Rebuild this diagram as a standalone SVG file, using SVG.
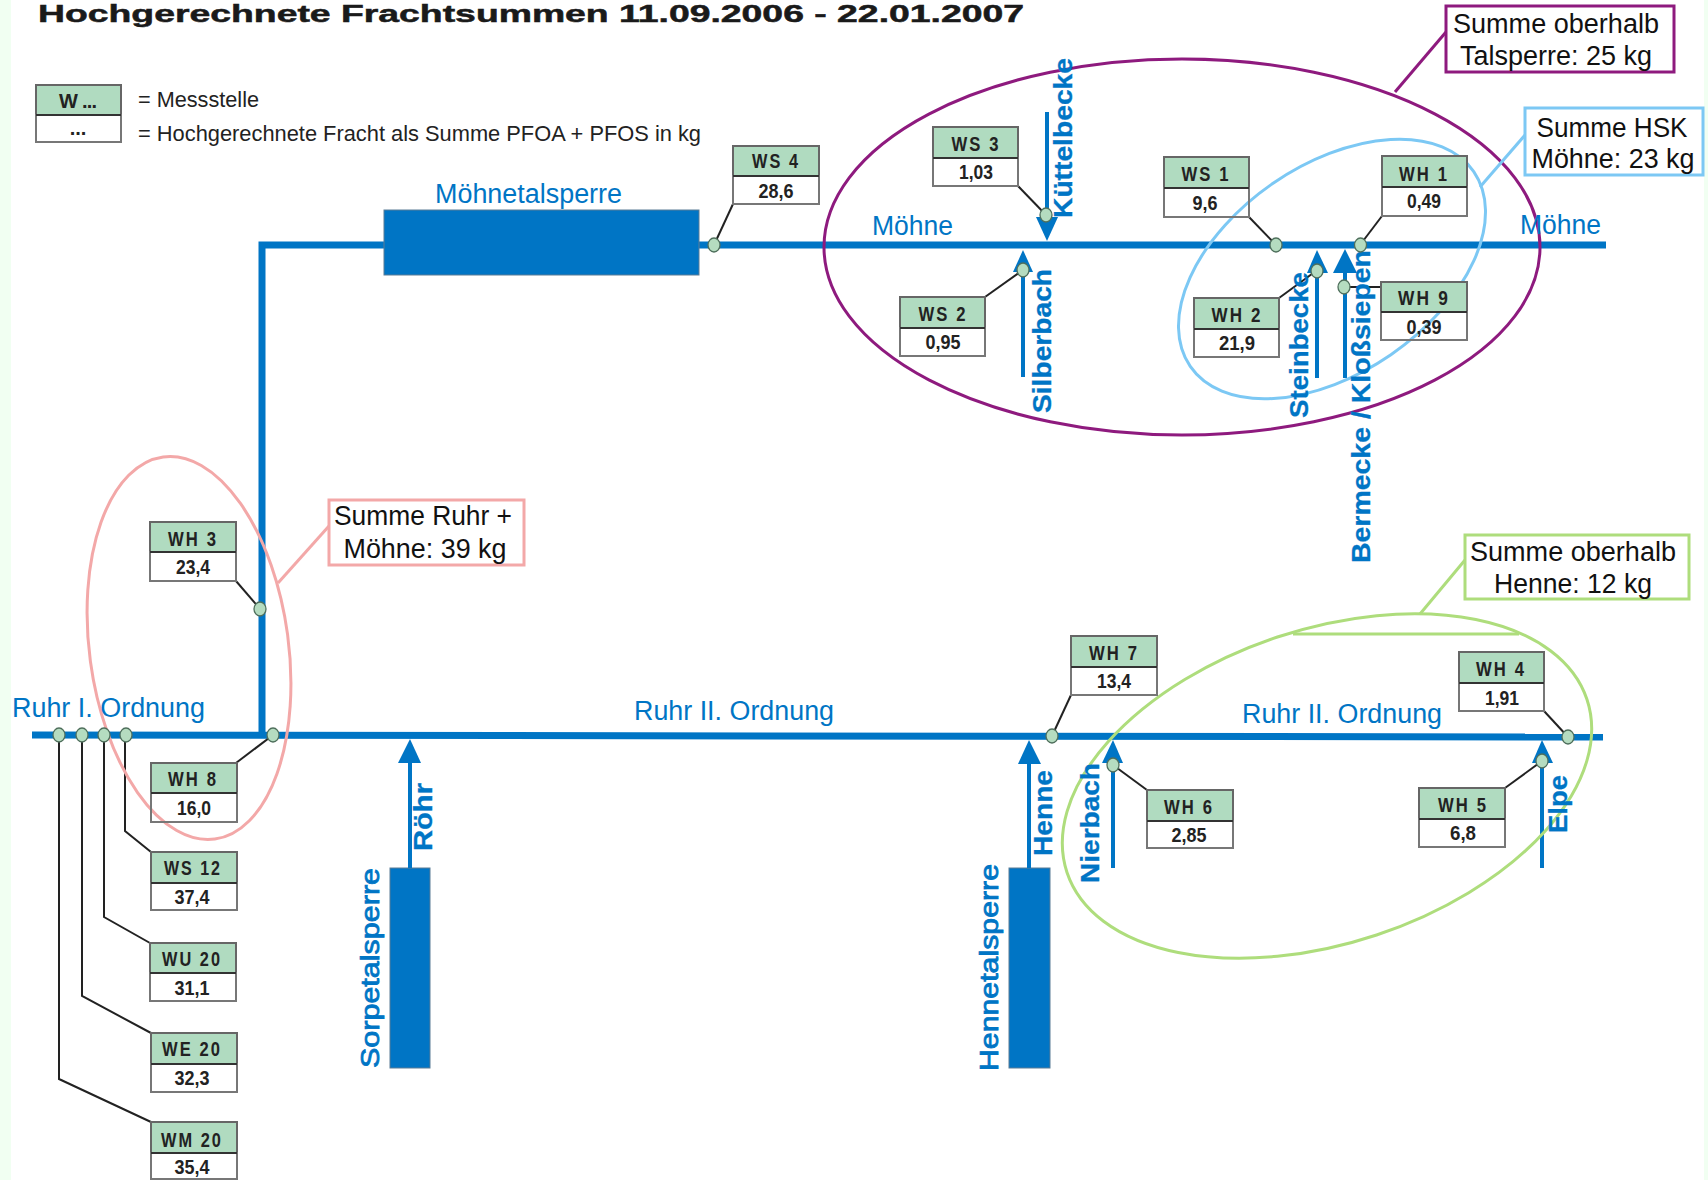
<svg xmlns="http://www.w3.org/2000/svg" width="1708" height="1180" viewBox="0 0 1708 1180">
<style>
text{font-family:"Liberation Sans",Arial,sans-serif;}
.h{fill:#b0dbc0;stroke:#666;stroke-width:2}
.v{fill:none;stroke:#777;stroke-width:2}
.d{stroke:#333;stroke-width:2}
.n{font-size:20px;font-weight:bold;fill:#222;text-anchor:middle}
.t{letter-spacing:2.500px}
.r{font-size:27px;fill:#0075c5}
.rb{font-size:26px;font-weight:bold;fill:#0075c5;stroke:#0075c5;stroke-width:.3}
.rm{font-size:26px;fill:#0075c5;stroke:#0075c5;stroke-width:.8}
.s{font-size:27px;fill:#111;text-anchor:middle}
.l{font-size:22px;fill:#222}
.main{fill:none;stroke:#0075c5;stroke-width:7}
.sh{fill:none;stroke:#0075c5;stroke-width:4}
.ah{fill:#0075c5}
.dam{fill:#0075c5;stroke:#5a7d96;stroke-width:1}
.ld{fill:none;stroke:#222;stroke-width:2}
.dot{fill:#b5dcc0;stroke:#4f6f5c;stroke-width:1.300}
.e{fill:none;stroke-width:3}
</style>
<rect width="1708" height="1180" fill="#f1fff2"/>
<rect x="11" y="0" width="1693" height="1180" fill="#fff"/>
<text x="38" y="22" font-size="24" font-weight="bold" fill="#1a1a1a" stroke="#1a1a1a" stroke-width=".5" textLength="986" lengthAdjust="spacingAndGlyphs">Hochgerechnete Frachtsummen 11.09.2006 - 22.01.2007</text>

<g id="legend">
<rect class="h" x="36" y="85" width="85" height="30"/><rect class="v" x="36" y="115" width="85" height="27"/>
<line class="d" x1="36" y1="115" x2="121" y2="115"/>
<text class="n" x="78" y="108" textLength="38" lengthAdjust="spacing">W ...</text>
<text class="n" x="78" y="135">...</text>
<text class="l" x="138" y="107" textLength="121" lengthAdjust="spacingAndGlyphs">= Messstelle</text>
<text class="l" x="138" y="141" textLength="563" lengthAdjust="spacingAndGlyphs">= Hochgerechnete Fracht als Summe PFOA + PFOS in kg</text>
</g>

<g id="connectors">
<path class="main" d="M262 735V245H1606"/>
<path class="main" d="M32 735L1603 737"/>
<rect class="dam" x="384" y="210" width="315" height="65"/>
<rect class="dam" x="390" y="868" width="40" height="200"/>
<rect class="dam" x="1009" y="868" width="41" height="200"/>
<g id="tributaries">
<path class="sh" d="M410 868V760"/><path class="ah" d="M410 739L421 763H398Z"/>
<path class="sh" d="M1029 868V760"/><path class="ah" d="M1029 740L1041 764H1018Z"/>
<path class="sh" d="M1113 868V760"/><path class="ah" d="M1113 740L1123 763H1102Z"/>
<path class="sh" d="M1542 868V760"/><path class="ah" d="M1542 740L1553 763H1532Z"/>
<path class="sh" d="M1047 112V220"/><path class="ah" d="M1047 241L1036 217H1058Z"/>
<path class="sh" d="M1023 377V270"/><path class="ah" d="M1023 250L1033 272H1013Z"/>
<path class="sh" d="M1317 378V270"/><path class="ah" d="M1317 250L1328 273H1307Z"/>
<path class="sh" d="M1345 378V270"/><path class="ah" d="M1345 249L1357 273H1333Z"/>
</g>
<path class="ld" d="M59 735V1079L151 1122"/>
<path class="ld" d="M82 735V996L151 1033"/>
<path class="ld" d="M104 735V917L150 943"/>
<path class="ld" d="M125 735V831L151 852"/>
<path class="ld" d="M273 735L236 763"/>
<path class="ld" d="M260 609L236 581"/>
<path class="ld" d="M714 245L733 204"/>
<path class="ld" d="M1046 215L1018 186"/>
<path class="ld" d="M1023 270L985 297"/>
<path class="ld" d="M1276 245L1249 217"/>
<path class="ld" d="M1360 245L1382 216"/>
<path class="ld" d="M1316 271L1279 298"/>
<path class="ld" d="M1344 287H1381"/>
<path class="ld" d="M1052 736L1071 695"/>
<path class="ld" d="M1113 765L1147 790"/>
<path class="ld" d="M1542 761L1505 788"/>
<path class="ld" d="M1568 737L1544 711"/>
</g>

<g id="sum-outlines">
<ellipse class="e" stroke="#f3a8a8" cx="189" cy="648" rx="99.500" ry="192.800" transform="rotate(-7.700 189 648)"/>
<path class="e" stroke="#f3a8a8" d="M278 583L329 526"/>
<ellipse class="e" stroke="#8e1a7e" cx="1182" cy="247" rx="358" ry="188"/>
<path class="e" stroke="#8e1a7e" d="M1395 92L1446 32"/>
<ellipse class="e" stroke="#7cc8f4" cx="1332" cy="269" rx="172" ry="104" transform="rotate(-34.500 1332 269)"/>
<path class="e" stroke="#7cc8f4" d="M1480 187L1525 135"/>
<ellipse class="e" stroke="#aedd7c" cx="1327" cy="786" rx="274" ry="157" transform="rotate(-18.400 1327 786)"/>
<path class="e" stroke="#aedd7c" d="M1293 634H1519M1420 614L1465 560"/>
</g>

<g id="WS4"><rect class="h" x="733" y="146" width="86" height="30"/><rect class="v" x="733" y="176" width="86" height="28"/><line class="d" x1="733" y1="176" x2="819" y2="176"/><text class="n t" x="776" y="168" textLength="48" lengthAdjust="spacingAndGlyphs">WS 4</text><text class="n" x="776" y="198" textLength="35" lengthAdjust="spacingAndGlyphs">28,6</text></g>
<g id="WS3"><rect class="h" x="933" y="127" width="85" height="31"/><rect class="v" x="933" y="158" width="85" height="28"/><line class="d" x1="933" y1="158" x2="1018" y2="158"/><text class="n t" x="976" y="151" textLength="49" lengthAdjust="spacingAndGlyphs">WS 3</text><text class="n" x="976" y="179" textLength="34" lengthAdjust="spacingAndGlyphs">1,03</text></g>
<g id="WS1"><rect class="h" x="1164" y="157" width="85" height="31"/><rect class="v" x="1164" y="188" width="85" height="29"/><line class="d" x1="1164" y1="188" x2="1249" y2="188"/><text class="n t" x="1206" y="181" textLength="49" lengthAdjust="spacingAndGlyphs">WS 1</text><text class="n" x="1205" y="210" textLength="25" lengthAdjust="spacingAndGlyphs">9,6</text></g>
<g id="WH1"><rect class="h" x="1382" y="156" width="85" height="31"/><rect class="v" x="1382" y="187" width="85" height="29"/><line class="d" x1="1382" y1="187" x2="1467" y2="187"/><text class="n t" x="1424" y="181" textLength="50" lengthAdjust="spacingAndGlyphs">WH 1</text><text class="n" x="1424" y="208" textLength="34" lengthAdjust="spacingAndGlyphs">0,49</text></g>
<g id="WS2"><rect class="h" x="900" y="297" width="85" height="31"/><rect class="v" x="900" y="328" width="85" height="28"/><line class="d" x1="900" y1="328" x2="985" y2="328"/><text class="n t" x="943" y="321" textLength="49" lengthAdjust="spacingAndGlyphs">WS 2</text><text class="n" x="943" y="349" textLength="35" lengthAdjust="spacingAndGlyphs">0,95</text></g>
<g id="WH2"><rect class="h" x="1194" y="298" width="85" height="31"/><rect class="v" x="1194" y="329" width="85" height="28"/><line class="d" x1="1194" y1="329" x2="1279" y2="329"/><text class="n t" x="1237" y="322" textLength="51" lengthAdjust="spacingAndGlyphs">WH 2</text><text class="n" x="1237" y="350" textLength="36" lengthAdjust="spacingAndGlyphs">21,9</text></g>
<g id="WH9"><rect class="h" x="1381" y="282" width="86" height="30"/><rect class="v" x="1381" y="312" width="86" height="28"/><line class="d" x1="1381" y1="312" x2="1467" y2="312"/><text class="n t" x="1424" y="305" textLength="52" lengthAdjust="spacingAndGlyphs">WH 9</text><text class="n" x="1424" y="334" textLength="35" lengthAdjust="spacingAndGlyphs">0,39</text></g>
<g id="WH3"><rect class="h" x="150" y="522" width="86" height="30"/><rect class="v" x="150" y="552" width="86" height="29"/><line class="d" x1="150" y1="552" x2="236" y2="552"/><text class="n t" x="193" y="546" textLength="50" lengthAdjust="spacingAndGlyphs">WH 3</text><text class="n" x="193" y="574" textLength="34" lengthAdjust="spacingAndGlyphs">23,4</text></g>
<g id="WH8"><rect class="h" x="151" y="763" width="86" height="30"/><rect class="v" x="151" y="793" width="86" height="29"/><line class="d" x1="151" y1="793" x2="237" y2="793"/><text class="n t" x="193" y="786" textLength="50" lengthAdjust="spacingAndGlyphs">WH 8</text><text class="n" x="194" y="815" textLength="34" lengthAdjust="spacingAndGlyphs">16,0</text></g>
<g id="WS12"><rect class="h" x="151" y="852" width="86" height="31"/><rect class="v" x="151" y="883" width="86" height="27"/><line class="d" x1="151" y1="883" x2="237" y2="883"/><text class="n t" x="193" y="875" textLength="58" lengthAdjust="spacingAndGlyphs">WS 12</text><text class="n" x="192" y="904" textLength="35" lengthAdjust="spacingAndGlyphs">37,4</text></g>
<g id="WU20"><rect class="h" x="150" y="943" width="86" height="30"/><rect class="v" x="150" y="973" width="86" height="28"/><line class="d" x1="150" y1="973" x2="236" y2="973"/><text class="n t" x="192" y="966" textLength="60" lengthAdjust="spacingAndGlyphs">WU 20</text><text class="n" x="192" y="995" textLength="35" lengthAdjust="spacingAndGlyphs">31,1</text></g>
<g id="WE20"><rect class="h" x="151" y="1033" width="86" height="31"/><rect class="v" x="151" y="1064" width="86" height="28"/><line class="d" x1="151" y1="1064" x2="237" y2="1064"/><text class="n t" x="192" y="1056" textLength="60" lengthAdjust="spacingAndGlyphs">WE 20</text><text class="n" x="192" y="1085" textLength="35" lengthAdjust="spacingAndGlyphs">32,3</text></g>
<g id="WM20"><rect class="h" x="151" y="1122" width="86" height="31"/><rect class="v" x="151" y="1153" width="86" height="26"/><line class="d" x1="151" y1="1153" x2="237" y2="1153"/><text class="n t" x="192" y="1147" textLength="62" lengthAdjust="spacingAndGlyphs">WM 20</text><text class="n" x="192" y="1174" textLength="35" lengthAdjust="spacingAndGlyphs">35,4</text></g>
<g id="WH7"><rect class="h" x="1071" y="636" width="86" height="31"/><rect class="v" x="1071" y="667" width="86" height="28"/><line class="d" x1="1071" y1="667" x2="1157" y2="667"/><text class="n t" x="1114" y="660" textLength="50" lengthAdjust="spacingAndGlyphs">WH 7</text><text class="n" x="1114" y="688" textLength="34" lengthAdjust="spacingAndGlyphs">13,4</text></g>
<g id="WH4"><rect class="h" x="1459" y="652" width="85" height="31"/><rect class="v" x="1459" y="683" width="85" height="28"/><line class="d" x1="1459" y1="683" x2="1544" y2="683"/><text class="n t" x="1501" y="676" textLength="50" lengthAdjust="spacingAndGlyphs">WH 4</text><text class="n" x="1502" y="705" textLength="34" lengthAdjust="spacingAndGlyphs">1,91</text></g>
<g id="WH6"><rect class="h" x="1147" y="790" width="86" height="31"/><rect class="v" x="1147" y="821" width="86" height="27"/><line class="d" x1="1147" y1="821" x2="1233" y2="821"/><text class="n t" x="1189" y="814" textLength="50" lengthAdjust="spacingAndGlyphs">WH 6</text><text class="n" x="1189" y="842" textLength="35" lengthAdjust="spacingAndGlyphs">2,85</text></g>
<g id="WH5"><rect class="h" x="1419" y="788" width="86" height="31"/><rect class="v" x="1419" y="819" width="86" height="28"/><line class="d" x1="1419" y1="819" x2="1505" y2="819"/><text class="n t" x="1463" y="812" textLength="50" lengthAdjust="spacingAndGlyphs">WH 5</text><text class="n" x="1463" y="840" textLength="26" lengthAdjust="spacingAndGlyphs">6,8</text></g>

<g id="river-labels">
<text class="r" x="435" y="203" textLength="187" lengthAdjust="spacingAndGlyphs">Möhnetalsperre</text>
<text class="r" x="872" y="235" textLength="81" lengthAdjust="spacingAndGlyphs">Möhne</text>
<text class="r" x="1520" y="234" textLength="81" lengthAdjust="spacingAndGlyphs">Möhne</text>
<text class="r" x="12" y="717" textLength="193" lengthAdjust="spacingAndGlyphs">Ruhr I. Ordnung</text>
<text class="r" x="634" y="720" textLength="200" lengthAdjust="spacingAndGlyphs">Ruhr II. Ordnung</text>
<text class="r" x="1242" y="723" textLength="200" lengthAdjust="spacingAndGlyphs">Ruhr II. Ordnung</text>
<text class="rm" transform="translate(379 1068) rotate(-90)" textLength="200" lengthAdjust="spacingAndGlyphs">Sorpetalsperre</text>
<text class="rm" transform="translate(998 1071) rotate(-90)" textLength="207" lengthAdjust="spacingAndGlyphs">Hennetalsperre</text>
<text class="rb" transform="translate(432 851) rotate(-90)" textLength="68" lengthAdjust="spacingAndGlyphs">Röhr</text>
<text class="rb" transform="translate(1052 856) rotate(-90)" textLength="86" lengthAdjust="spacingAndGlyphs">Henne</text>
<text class="rb" transform="translate(1099 883) rotate(-90)" textLength="120" lengthAdjust="spacingAndGlyphs">Nierbach</text>
<text class="rb" transform="translate(1567 833) rotate(-90)" textLength="58" lengthAdjust="spacingAndGlyphs">Elpe</text>
<text class="rb" transform="translate(1072 218) rotate(-90)" textLength="160" lengthAdjust="spacingAndGlyphs">Küttelbecke</text>
<text class="rb" transform="translate(1051 413) rotate(-90)" textLength="144" lengthAdjust="spacingAndGlyphs">Silberbach</text>
<text class="rb" transform="translate(1308 418) rotate(-90)" textLength="146" lengthAdjust="spacingAndGlyphs">Steinbecke</text>
<text class="rb" transform="translate(1370 563) rotate(-90)" textLength="313" lengthAdjust="spacingAndGlyphs">Bermecke / Kloßsiepen</text>
</g>

<g id="dots">
<ellipse class="dot" cx="59" cy="735" rx="6" ry="7"/>
<ellipse class="dot" cx="82" cy="735" rx="6" ry="7"/>
<ellipse class="dot" cx="104" cy="735" rx="6" ry="7"/>
<ellipse class="dot" cx="126" cy="735" rx="6" ry="7"/>
<ellipse class="dot" cx="273" cy="735" rx="6" ry="7"/>
<ellipse class="dot" cx="260" cy="609" rx="6" ry="7"/>
<ellipse class="dot" cx="714" cy="245" rx="6" ry="7"/>
<ellipse class="dot" cx="1046" cy="215" rx="6" ry="7"/>
<ellipse class="dot" cx="1023" cy="270" rx="6" ry="7"/>
<ellipse class="dot" cx="1276" cy="245" rx="6" ry="7"/>
<ellipse class="dot" cx="1360.500" cy="245" rx="6" ry="7"/>
<ellipse class="dot" cx="1317" cy="271" rx="6" ry="7"/>
<ellipse class="dot" cx="1344" cy="287" rx="6" ry="7"/>
<ellipse class="dot" cx="1052" cy="736" rx="6" ry="7"/>
<ellipse class="dot" cx="1113" cy="765" rx="6" ry="7"/>
<ellipse class="dot" cx="1542" cy="761" rx="6" ry="7"/>
<ellipse class="dot" cx="1568" cy="737" rx="6" ry="7"/>
</g>

<g id="sum-ruhr-moehne">
<rect x="329" y="500" width="195" height="65" fill="#fff" stroke="#f3a8a8" stroke-width="3"/>
<text class="s" x="423" y="525" textLength="178" lengthAdjust="spacingAndGlyphs">Summe Ruhr +</text>
<text class="s" x="425" y="558" textLength="163" lengthAdjust="spacingAndGlyphs">Möhne: 39 kg</text>
</g>
<g id="sum-talsperre">
<rect x="1446" y="6" width="228" height="66" fill="#fff" stroke="#8e1a7e" stroke-width="3"/>
<text class="s" x="1556" y="33" textLength="206" lengthAdjust="spacingAndGlyphs">Summe oberhalb</text>
<text class="s" x="1556" y="65" textLength="192" lengthAdjust="spacingAndGlyphs">Talsperre: 25 kg</text>
</g>
<g id="sum-hsk">
<rect x="1525" y="108" width="178" height="67" fill="#fff" stroke="#7cc8f4" stroke-width="3"/>
<text class="s" x="1612" y="137" textLength="151" lengthAdjust="spacingAndGlyphs">Summe HSK</text>
<text class="s" x="1613" y="168" textLength="163" lengthAdjust="spacingAndGlyphs">Möhne: 23 kg</text>
</g>
<g id="sum-henne">
<rect x="1465" y="535" width="224" height="64" fill="#fff" stroke="#aedd7c" stroke-width="3"/>
<text class="s" x="1573" y="561" textLength="206" lengthAdjust="spacingAndGlyphs">Summe oberhalb</text>
<text class="s" x="1573" y="593" textLength="158" lengthAdjust="spacingAndGlyphs">Henne: 12 kg</text>
</g>
</svg>
